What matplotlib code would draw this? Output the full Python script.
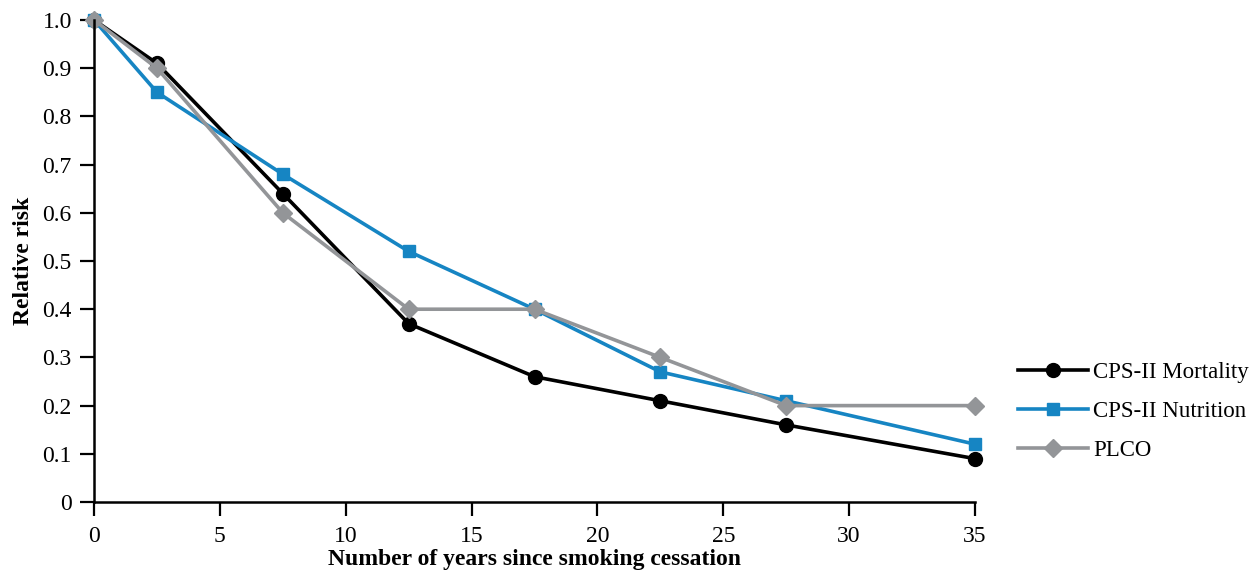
import matplotlib.pyplot as plt

years = [0, 2.5, 7.5, 12.5, 17.5, 22.5, 27.5, 35]
mortality = [1.0, 0.91, 0.64, 0.37, 0.26, 0.21, 0.16, 0.09]
nutrition = [1.0, 0.85, 0.68, 0.52, 0.40, 0.27, 0.21, 0.12]
plco = [1.0, 0.90, 0.60, 0.40, 0.40, 0.30, 0.20, 0.20]

x_ticks = [0, 5, 10, 15, 20, 25, 30, 35]
y_ticks = [0, 0.1, 0.2, 0.3, 0.4, 0.5, 0.6, 0.7, 0.8, 0.9, 1.0]
y_labels = ['0', '0.1', '0.2', '0.3', '0.4', '0.5', '0.6', '0.7', '0.8', '0.9', '1.0']

plt.rcParams['font.family'] = ['Liberation Serif', 'DejaVu Serif']

fig = plt.figure(figsize=(12.59, 5.71), dpi=100)
ax = fig.add_axes([0.0747, 0.1208, 0.6997, 0.8442])

ax.plot(years, mortality, color='black', lw=2.6, marker='o', ms=10, label='CPS-II Mortality')
ax.plot(years, nutrition, color='#1685c3', lw=2.6, marker='s', ms=9, label='CPS-II Nutrition')
ax.plot(years, plco, color='#939598', lw=2.6, marker='D', ms=9, label='PLCO')

ax.set_xlim(0, 35)
ax.set_ylim(0, 1.0)
ax.set_xticks(x_ticks)
ax.set_yticks(y_ticks)
ax.set_yticklabels(y_labels)
for s in ['top', 'right']:
    ax.spines[s].set_visible(False)
for s in ['left', 'bottom']:
    ax.spines[s].set_linewidth(1.8)
ax.tick_params(direction='out', length=10, width=1.6, labelsize=17, pad=6)
ax.tick_params(axis='x', pad=7)

ax.set_xlabel('Number of years since smoking cessation', fontsize=17, fontweight='bold', labelpad=2)
ax.set_ylabel('Relative risk', fontsize=17, fontweight='bold', labelpad=6)

for p in ax.lines:
    p.set_clip_on(False)

# legend sits to the right of the plot, near the bottom
ax.legend(loc='center left', bbox_to_anchor=(1.039, 0.188), frameon=False, fontsize=16.5,
          handlelength=3.05, handletextpad=0.2, labelspacing=0.8, borderaxespad=0)

fig.savefig('out.png', dpi=100)
